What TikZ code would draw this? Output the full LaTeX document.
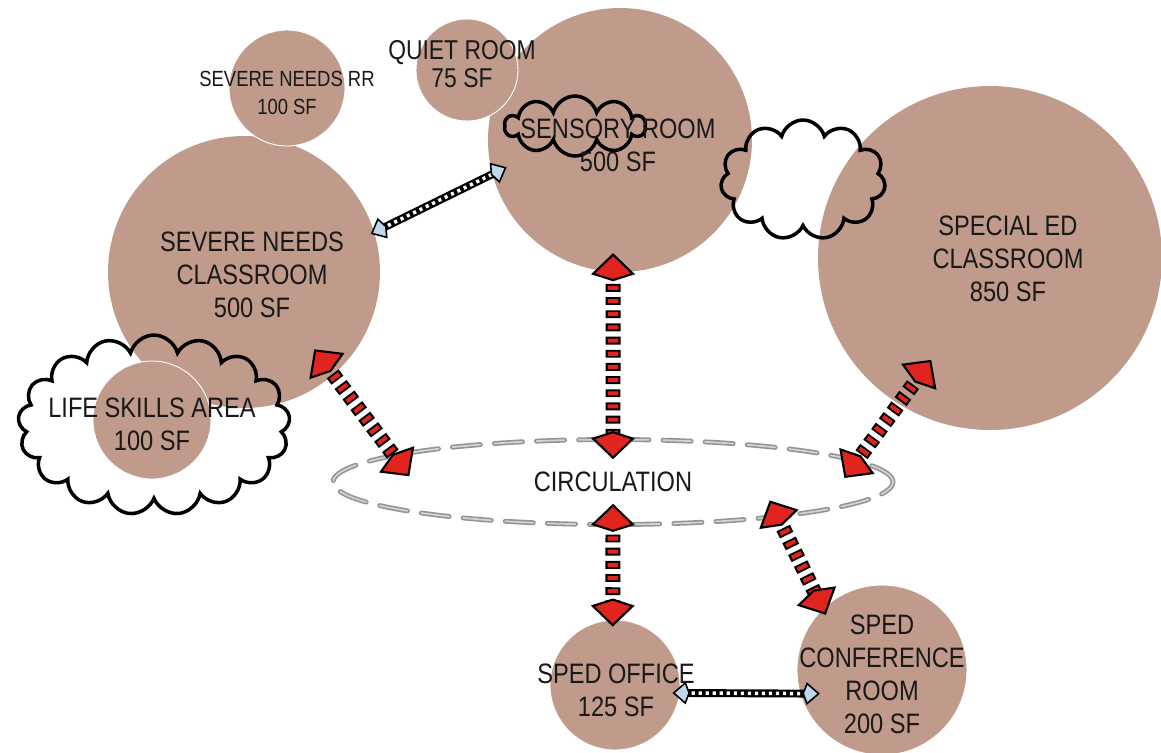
\documentclass[tikz,border=0pt]{standalone}
\usepackage{fontspec}
\setmainfont{Liberation Sans}[FakeStretch=0.84]
\usetikzlibrary{arrows.meta,shapes.geometric,shapes.symbols}

\definecolor{roomfill}{RGB}{192,155,140}
\definecolor{tipblue}{RGB}{190,215,235}
\definecolor{arrowred}{RGB}{226,36,30}

\tikzset{
    room/.style={circle, fill=roomfill, inner sep=0pt, minimum size=#1},
    smallroom/.style={room=#1, draw=white, line width=0.5pt},
    lbl/.style={align=center, text=black!90, font=\fontsize{16}{18.8}\selectfont},
    puff/.style={cloud, draw=black, line width=2pt, cloud ignores aspect, inner sep=0pt},
    redlink/.style 2 args={draw=black, line width=1.2pt, dash pattern=on 0pt off 100cm,
        {Kite[length=16pt,width=25pt,inset=4pt,fill=arrowred]}-{Kite[length=16pt,width=25pt,inset=4pt,fill=arrowred]},
        shorten <=#1, shorten >=#2,
        preaction={draw=black, -, line width=8.5pt, dash pattern=on 4.5pt off 3pt,
            shorten <=#1+10pt, shorten >=#2+10pt},
        preaction={draw=arrowred, -, line width=6pt, dash pattern=on 2.3pt off 5.2pt, dash phase=6.4pt,
            shorten <=#1+10pt, shorten >=#2+10pt}},
    bluelink/.style 2 args={draw=black, line width=0.9pt, dash pattern=on 0pt off 100cm,
        {Kite[length=10pt,width=13pt,inset=2.5pt,fill=tipblue]}-{Kite[length=10pt,width=13pt,inset=2.5pt,fill=tipblue]},
        shorten <=#1, shorten >=#2,
        preaction={draw=black, -, solid, line width=4.5pt, shorten <=#1+6pt, shorten >=#2+6pt},
        preaction={draw=white, -, line width=2pt, dash pattern=on 1.8pt off 2.2pt, dash phase=3.1pt,
            shorten <=#1+6pt, shorten >=#2+6pt}}
}

\begin{document}
\begin{tikzpicture}[x=0.02cm, y=-0.02cm]
    \fill[white] (0,0) rectangle (1161,752);
    \useasboundingbox (0,0) rectangle (1161,752);

    % rooms
    \node[room=5.28cm] (senroom) at (620,140) {};
    \node[room=5.44cm] (sevcls) at (244,272) {};
    \node[room=6.88cm] (specroom) at (990,258) {};
    \node[smallroom=2.32cm] (rrroom) at (287,88) {};
    \node[smallroom=2.04cm] (quiet) at (467,70) {};
    \node[smallroom=2.36cm] (life) at (152,420) {};
    \node[smallroom=2.6cm] (office) at (615,685) {};
    \node[smallroom=3.4cm] (confroom) at (882,670) {};

    \node[puff, cloud puffs=17, minimum width=5.44cm, minimum height=3.6cm] (lifecloud) at (154,425) {};
    \node[puff, cloud puffs=10, minimum width=2.8cm, minimum height=1.2cm] (sencloud) at (575,126) {};
    \node[puff, cloud puffs=11, minimum width=3.3cm, minimum height=2.4cm] (sidecloud) at (803,180) {};

    \node[ellipse, lbl, minimum width=11.2cm, minimum height=1.7cm, draw=gray!85, double=gray!35,
        line width=0.9pt, double distance=1pt, line cap=round, dash pattern=on 16pt off 8pt] (circ) at (613,482) {CIRCULATION};

    % links
    \draw[redlink={-0.64cm}{-0.53cm}] (sevcls.-49) -- (circ.173);
    \draw[redlink={-0.38cm}{-0.41cm}] (senroom.-93) -- (circ.90);
    \draw[redlink={-1.1cm}{-0.43cm}] (specroom.-122) -- (circ.5);
    \draw[redlink={-0.43cm}{-0.14cm}] (circ.-90) -- (office.92);
    \draw[redlink={-0.37cm}{-0.14cm}] (circ.-12) -- (confroom.134);
    \draw[bluelink={-0.08cm}{-0.32cm}] (sevcls.17) -- (senroom.195);
    \draw[bluelink={-0.15cm}{-0.40cm}] (office.-7) -- (confroom.196);

    % labels
    \node[lbl, font=\fontsize{12.5}{16}\selectfont] (rrlbl) at (287,93) {SEVERE NEEDS RR\\100 SF};
    \node[lbl, font=\fontsize{15.5}{16}\selectfont] (quietlbl) at (462,64) {QUIET ROOM\\75 SF};
    \node[lbl] (senlbl) at (618,145) {SENSORY ROOM\\500 SF};
    \node[lbl] (sevlbl) at (252,275) {SEVERE NEEDS\\CLASSROOM\\500 SF};
    \node[lbl] (speclbl) at (1008,259) {SPECIAL ED\\CLASSROOM\\850 SF};
    \node[lbl] (lifelbl) at (152,424) {LIFE SKILLS AREA\\100 SF};
    \node[lbl] (officelbl) at (616,690) {SPED OFFICE\\125 SF};
    \node[lbl] (conflbl) at (882,674) {SPED\\CONFERENCE\\ROOM\\200 SF};
\end{tikzpicture}
\end{document}
